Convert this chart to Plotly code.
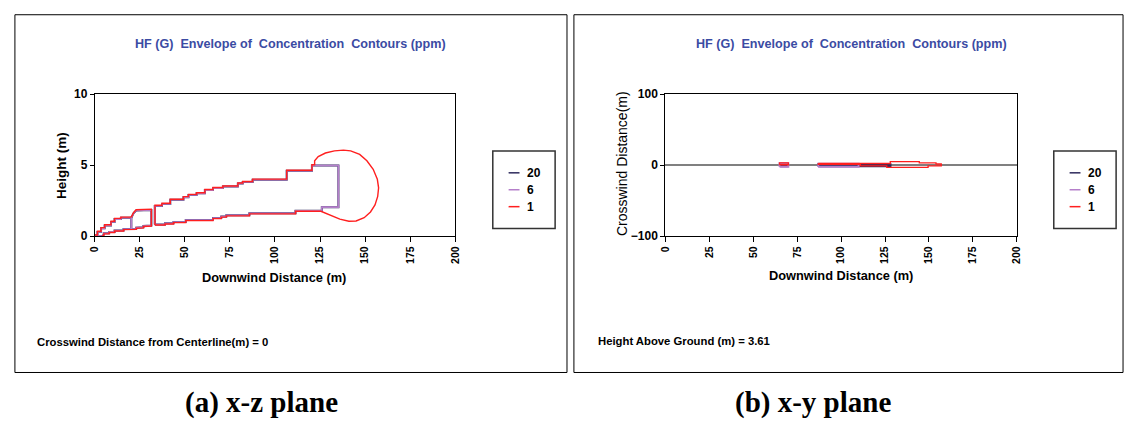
import plotly.graph_objects as go

W, H = 1131, 423

# ---------------- data ----------------
series_names = ["20", "6", "1"]
series_colors = ["#2e2a5c", "#b57fca", "#ff1f1f"]
x_ticks = [0, 25, 50, 75, 100, 125, 150, 175, 200]
z_ticks = [0, 5, 10]
y_ticks = [-100, 0, 100]

# x-z plane (downwind distance, height), None separates pieces
xz_20_x = [0, 1.5, 1.5, 3.5, 3.5, 5.5, 5.5, 9, 9, 11, 11, 14.5, 14.5, 20.3, 20.3, 16, 16, 11, 11, 8, 8, 5, 5, 4, 0, None,
           20.3, 21.5, 23, 27, 31.4, 31.4, 27, 27, 23, 23, 20.3, None,
           33.3, 33.3, 37.3, 37.3, 41.9, 41.9, 49.2, 49.2, 52, 52, 56.5, 56.5, 61.1, 61.1, 65.6, 65.6, 71.1, 71.1,
           79.4, 79.4, 82.1, 82.1, 87.6, 87.6, 106.5, 106.5, 120.5, 120.5, 135.2, 135.2, 126, 126, 111.4, 111.4,
           85.8, 85.8, 73, 73, 70.2, 70.2, 65.6, 65.6, 50.5, 50.5, 43.7, 43.7, 39, 39, 33.3]
xz_20_z = [0.05, 0.05, 0.3, 0.3, 0.55, 0.55, 0.75, 0.75, 1.0, 1.0, 1.2, 1.2, 1.3, 1.3, 0.5, 0.5, 0.4, 0.4, 0.3, 0.3, 0.2, 0.2, 0.1, 0.0, 0.05, None,
           1.3, 1.6, 1.8, 1.84, 1.84, 0.75, 0.72, 0.62, 0.6, 0.52, 0.5, None,
           0.82, 2.13, 2.13, 2.27, 2.27, 2.56, 2.56, 2.74, 2.74, 2.9, 2.9, 3.01, 3.01, 3.24, 3.24, 3.38, 3.38, 3.49, 3.49,
           3.7, 3.7, 3.81, 3.81, 3.97, 3.97, 4.6, 4.6, 4.97, 4.97, 2.04, 2.04, 1.79, 1.79, 1.61, 1.61,
           1.47, 1.47, 1.38, 1.38, 1.27, 1.27, 1.13, 1.13, 0.99, 0.99, 0.9, 0.9, 0.82, 0.82]

xz_6_x = [0, 1.5, 1.5, 3.5, 3.5, 5.5, 5.5, 9, 9, 11, 11, 14.5, 14.5, 20.3, 20.3, 16, 16, 11, 11, 8, 8, 5, 5, 4, 0, None,
          20.3, 21.5, 23, 27, 31.4, 31.4, 27, 27, 23, 23, 20.3, None,
          33.3, 33.3, 37.3, 37.3, 41.9, 41.9, 49.2, 49.2, 52, 52, 56.5, 56.5, 61.1, 61.1, 65.6, 65.6, 71.1, 71.1,
          79.4, 79.4, 82.1, 82.1, 87.6, 87.6, 106.5, 106.5, 120.5, 120.5, 135.2, 135.2, 126, 126, 111.4, 111.4,
          85.8, 85.8, 73, 73, 70.2, 70.2, 65.6, 65.6, 50.5, 50.5, 43.7, 43.7, 39, 39, 33.3]
xz_6_z = [0.05, 0.05, 0.3, 0.3, 0.55, 0.55, 0.75, 0.75, 1.0, 1.0, 1.2, 1.2, 1.3, 1.3, 0.5, 0.5, 0.4, 0.4, 0.3, 0.3, 0.2, 0.2, 0.1, 0.0, 0.05, None,
          1.3, 1.6, 1.8, 1.84, 1.84, 0.75, 0.72, 0.62, 0.6, 0.52, 0.5, None,
          0.82, 2.13, 2.13, 2.27, 2.27, 2.56, 2.56, 2.74, 2.74, 2.9, 2.9, 3.01, 3.01, 3.24, 3.24, 3.38, 3.38, 3.49, 3.49,
          3.7, 3.7, 3.81, 3.81, 3.97, 3.97, 4.6, 4.6, 4.97, 4.97, 2.04, 2.04, 1.79, 1.79, 1.61, 1.61,
          1.47, 1.47, 1.38, 1.38, 1.27, 1.27, 1.13, 1.13, 0.99, 0.99, 0.9, 0.9, 0.82, 0.82]

xz_1_x = [0, 1.5, 1.5, 3.5, 3.5, 5.5, 5.5, 9, 9, 11, 11, 14.5, 14.5, 20.3, None,
          20.3, 21.5, 23, 27, 31.4, 31.4, 27, 27, 23, 23, 20.3, 16, 16, 11, 11, 8, 8, 5, 5, 4, None,
          33.4, 33.4, 37.3, 37.3, 41.9, 41.9, 49.2, 49.2, 52, 52, 56.5, 56.5, 61.1, 61.1, 65.6, 65.6, 71.1, 71.1,
          79.4, 79.4, 82.1, 82.1, 87.6, 87.6, 106.5, 106.5, 120.5, 120.5, 122,
          122, 124, 128, 133, 138, 142, 147, 151, 154.5, 156.8, 157.5, 157, 155.5, 153, 149.5, 145, 141, 136, 131, 127.5, 125.5,
          111.4, 111.4, 85.8, 85.8, 73, 73, 70.2, 70.2, 65.6, 65.6, 50.5, 50.5, 43.7, 43.7, 39, 39, 33.4]
xz_1_z = [0.08, 0.08, 0.34, 0.34, 0.6, 0.6, 0.8, 0.8, 1.05, 1.05, 1.25, 1.25, 1.34, 1.34, None,
          1.34, 1.65, 1.86, 1.9, 1.9, 0.71, 0.68, 0.58, 0.56, 0.48, 0.46, 0.46, 0.36, 0.36, 0.26, 0.26, 0.16, 0.16, 0.06, 0.0, None,
          0.79, 2.17, 2.17, 2.31, 2.31, 2.6, 2.6, 2.78, 2.78, 2.94, 2.94, 3.05, 3.05, 3.28, 3.28, 3.42, 3.42, 3.53, 3.53,
          3.74, 3.74, 3.85, 3.85, 4.01, 4.01, 4.64, 4.64, 5.02, 5.02,
          5.3, 5.6, 5.85, 6.0, 6.05, 6.0, 5.75, 5.3, 4.7, 4.0, 3.4, 2.8, 2.2, 1.7, 1.3, 1.07, 1.05, 1.2, 1.45, 1.65, 1.75,
          1.75, 1.57, 1.57, 1.43, 1.43, 1.34, 1.34, 1.23, 1.23, 1.09, 1.09, 0.95, 0.95, 0.86, 0.86, 0.79, 0.79]

# x-y plane at 3.61 m (downwind distance, crosswind distance)
xy_20_x = [65.5, 69.5, 69.5, 65.5, 65.5, None, 87, 128, 128, 87, 87]
xy_20_y = [-1.5, -1.5, 1.5, 1.5, -1.5, None, -1.5, -1.5, 1.0, 1.0, -1.5]
xy_6_x = [65, 70, 70, 65, 65, None, 87, 110, 110, 87, 87]
xy_6_y = [-2.5, -2.5, 2.5, 2.5, -2.5, None, -2.5, -2.5, 1.8, 1.8, -2.5]
xy_1_x = [65, 70, 70, 65, 65, None, 87, 128, 128, 144.5, 144.5, 154, 154, 157, 157, 149.5, 149.5, 126, 126, 111, 111, 87, 87]
xy_1_y = [0.5, 0.5, 3, 3, 0.5, None, 2.2, 2.2, 5, 5, 3, 3, 1.5, 1.5, -1, -1, -3.2, -3.2, -1.2, -1.2, 1.2, 1.2, 2.2]

title_text = "HF (G)  Envelope of  Concentration  Contours (ppm)"
x_title = "Downwind Distance (m)"
left_note = "Crosswind Distance from Centerline(m) = 0"
right_note = "Height Above Ground (m) = 3.61"

# ---------------- figure ----------------
def px(x):
    return x / W

def py(y):
    return 1 - y / H

fig = go.Figure()
xz_data = [(xz_20_x, xz_20_z), (xz_6_x, xz_6_z), (xz_1_x, xz_1_z)]
xy_data = [(xy_20_x, xy_20_y), (xy_6_x, xy_6_y), (xy_1_x, xy_1_y)]
widths = [2, 1.6, 1.4]
for name, color, w, (xs, zs) in zip(series_names, series_colors, widths, xz_data):
    fig.add_trace(go.Scatter(x=xs, y=zs, mode="lines", name=name, line=dict(color=color, width=w),
                             xaxis="x", yaxis="y", showlegend=False, connectgaps=False))
for name, color, w, (xs, ys) in zip(series_names, series_colors, [2.4, 2, 1.3], xy_data):
    fig.add_trace(go.Scatter(x=xs, y=ys, mode="lines", name=name, line=dict(color=color, width=w),
                             xaxis="x2", yaxis="y2", showlegend=False, connectgaps=False))

tickfont = dict(family="Liberation Sans", size=10.5, color="black", weight="bold")
ytickfont = dict(family="Liberation Sans", size=12, color="black", weight="bold")
common_x = dict(range=[0, 200], tickvals=x_ticks, ticktext=[str(v) for v in x_ticks], tickangle=-90,
                ticks="outside", ticklen=5, tickcolor="black", showline=True, linecolor="black", linewidth=1,
                mirror=True, showgrid=False, zeroline=False, tickfont=tickfont, fixedrange=True)
ydom = [py(237), py(90)]
fig.update_layout(
    width=W, height=H, margin=dict(l=0, r=0, t=0, b=0),
    paper_bgcolor="white", plot_bgcolor="white", showlegend=False,
    xaxis=dict(domain=[px(88.7), px(453)], anchor="y", **common_x),
    yaxis=dict(domain=ydom, anchor="x", range=[0, 10], tickvals=z_ticks, ticks="outside", ticklen=4,
               tickcolor="black", showline=True, linecolor="black", linewidth=1, mirror=True,
               showgrid=False, zeroline=False, tickfont=ytickfont),
    xaxis2=dict(domain=[px(665.3), px(1020.7)], anchor="y2", **common_x),
    yaxis2=dict(domain=ydom, anchor="x2", range=[-100, 100], tickvals=y_ticks, ticks="outside", ticklen=4,
                tickcolor="black", showline=True, linecolor="black", linewidth=1, mirror=True,
                showgrid=False, zeroline=True, zerolinecolor="#808080", zerolinewidth=2,
                tickfont=ytickfont),
)

shapes = []
# panel frames
for x0, x1 in [(8, 566), (573, 1128)]:
    shapes.append(dict(type="rect", xref="paper", yref="paper", x0=px(x0), x1=px(x1), y0=py(378), y1=py(8),
                       line=dict(color="black", width=1)))
# legend frames
for x0 in [491, 1058]:
    shapes.append(dict(type="rect", xref="paper", yref="paper", x0=px(x0), x1=px(x0 + 63), y0=py(229), y1=py(149),
                       line=dict(color="#333333", width=1.5)))

ann = []
tfont = dict(family="Liberation Sans", size=12.6, color="#3b4ba3", weight="bold")
ann.append(dict(text=title_text, x=px(287), y=py(38), font=tfont))
ann.append(dict(text=title_text, x=px(854), y=py(38), font=tfont))
xfont = dict(family="Liberation Sans", size=12.8, color="black", weight="bold")
ann.append(dict(text=x_title, x=px(270), y=py(280), font=xfont))
ann.append(dict(text=x_title, x=px(843), y=py(278), font=xfont))
ann.append(dict(text="Height (m)", x=px(55), y=py(164), font=dict(family="Liberation Sans", size=13.5,
                color="black", weight="bold"), textangle=-90))
ann.append(dict(text="Crosswind Distance(m)", x=px(621), y=py(162),
                font=dict(family="Liberation Sans", size=14, color="black"), textangle=-90))
nfont = dict(family="Liberation Sans", size=11.3, color="black", weight="bold")
ann.append(dict(text=left_note, x=px(28), y=py(346), font=nfont, xanchor="left"))
ann.append(dict(text=right_note, x=px(595), y=py(345), font=nfont, xanchor="left"))
cfont = dict(family="Liberation Serif", size=29, color="black", weight="bold")
ann.append(dict(text="(a) x-z plane", x=px(257), y=py(409), font=cfont))
ann.append(dict(text="(b) x-y plane", x=px(815), y=py(409), font=cfont))

# legend entries (manual legend boxes)
lfont = dict(family="Liberation Sans", size=12, color="black", weight="bold")
for base in [491, 1058]:
    for name, color, yy in zip(series_names, series_colors, [171.5, 189, 206.5]):
        shapes.append(dict(type="line", xref="paper", yref="paper", x0=px(base + 16), x1=px(base + 27),
                           y0=py(yy), y1=py(yy), line=dict(color=color, width=1.5)))
        ann.append(dict(text=name, x=px(base + 33), y=py(yy), font=lfont, xanchor="left"))

for a in ann:
    a.update(xref="paper", yref="paper", showarrow=False)
    a.setdefault("xanchor", "center")
    a.setdefault("yanchor", "middle")
fig.update_layout(shapes=shapes, annotations=ann)

fig.write_html("out.html")
